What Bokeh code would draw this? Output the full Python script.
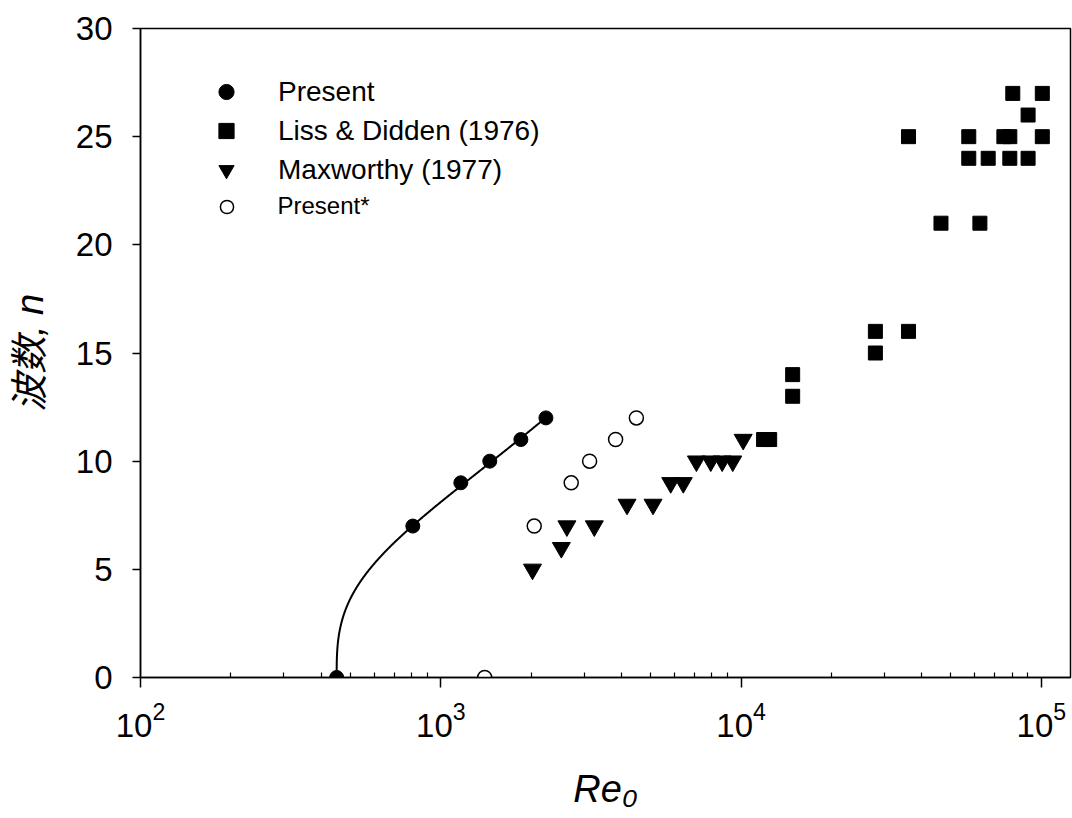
import numpy as np
from bokeh.plotting import figure
from bokeh.models import Range1d, FixedTicker, Legend, LegendItem
from bokeh.embed import file_html
from bokeh.resources import INLINE

# ---- data ----
re_present = [450, 807, 1166, 1456, 1848, 2239]
n_present = [0, 7, 9, 10, 11, 12]

re_present_star = [1400, 2047, 2718, 3130, 3820, 4480]
n_present_star = [0, 7, 9, 10, 11, 12]

re_maxworthy = [2020, 2520, 2630, 3245, 4170, 5090, 5830, 6420, 7100, 7925, 8650, 9380, 10160]
n_maxworthy = [5, 6, 7, 7, 8, 8, 9, 9, 10, 10, 10, 10, 11]

re_liss = [11880, 12450, 14850, 14850, 28000, 28000, 36100, 36100, 46300, 62400,
           57300, 66500, 78500, 90300, 57300, 75000, 78500, 100700, 90300, 80300, 100700]
n_liss = [11, 11, 14, 13, 16, 15, 16, 25, 21, 21,
          24, 24, 24, 24, 25, 25, 25, 25, 26, 27, 27]

x_major_ticks = [100, 1000, 10000, 100000]
y_ticks = [0, 5, 10, 15, 20, 25, 30]

x_title = "Re\u2080"
y_title = "波数, n"

# ---- fit curve through "Present": n^3 = a (Re - Re_c) ----
re_arr = np.array(re_present, float)
n_arr = np.array(n_present, float)
d = re_arr - re_arr[0]
a_fit = np.sum(d * n_arr ** 3) / np.sum(d ** 2)
t = np.linspace(0, 1, 400)
re_fit = re_arr[0] + (re_arr[-1] - re_arr[0]) * t ** 3
n_fit = np.cbrt(a_fit * (re_fit - re_arr[0]))

FONT = "Liberation Sans"

p = figure(width=1072, height=818, x_axis_type="log",
           x_range=Range1d(100, 125000), y_range=Range1d(0, 30),
           output_backend="svg", toolbar_location=None,
           min_border_left=140, min_border_right=2,
           min_border_top=28, min_border_bottom=141)
p.background_fill_color = "white"
p.border_fill_color = "white"
p.outline_line_color = "black"
p.outline_line_width = 1.5
p.xgrid.visible = False
p.ygrid.visible = False

minor = []
for dec in x_major_ticks[:-1]:
    for k in range(2, 10):
        minor.append(dec * k)
p.xaxis.ticker = FixedTicker(ticks=x_major_ticks, minor_ticks=minor)
p.yaxis.ticker = FixedTicker(ticks=y_ticks)

for ax in (p.xaxis, p.yaxis):
    ax.axis_line_color = "black"
    ax.axis_line_width = 1.5
    ax.major_tick_line_color = "black"
    ax.major_tick_line_width = 1.5
    ax.major_label_text_font = FONT
    ax.major_label_text_font_size = "33px"
    ax.major_label_text_color = "black"
    ax.major_tick_in = 0
    ax.axis_label_text_color = "black"
    ax.axis_label_text_font_style = "italic"

p.xaxis.major_tick_out = 10
p.xaxis.minor_tick_in = 5
p.xaxis.minor_tick_out = 0
p.xaxis.minor_tick_line_color = "black"
p.xaxis.minor_tick_line_width = 1.2
p.xaxis.major_label_standoff = 14
p.xaxis.axis_label = x_title
p.xaxis.axis_label_text_font = FONT
p.xaxis.axis_label_text_font_size = "38px"
p.xaxis.axis_label_standoff = 28

p.yaxis.major_tick_out = 8
p.yaxis.minor_tick_line_color = None
p.yaxis.major_label_standoff = 20
p.yaxis.axis_label = y_title
p.yaxis.axis_label_text_font = "Liberation Sans, Noto Sans CJK SC"
p.yaxis.axis_label_text_font_size = "38px"
p.yaxis.axis_label_standoff = 22

# ---- marks ----
p.line(re_fit, n_fit, line_width=2, line_color="black")
r_present = p.scatter(re_present, n_present, marker="circle", size=14,
                      fill_color="black", line_color="black", line_width=1)
r_liss = p.scatter(re_liss, n_liss, marker="square", size=14,
                   fill_color="black", line_color="black", line_width=1)
r_max = p.scatter(re_maxworthy, n_maxworthy, marker="inverted_triangle", size=18,
                  fill_color="black", line_color="black", line_width=1)
r_star = p.scatter(re_present_star, n_present_star, marker="circle", size=14,
                   fill_color="white", line_color="black", line_width=1.5)

# ---- legends ----
leg1 = Legend(items=[LegendItem(label="Present", renderers=[r_present]),
                     LegendItem(label="Liss & Didden (1976)", renderers=[r_liss]),
                     LegendItem(label="Maxworthy (1977)", renderers=[r_max])],
              location=(67, 488), orientation="vertical",
              label_text_font=FONT, label_text_font_size="28px", label_text_color="black",
              label_standoff=33, glyph_width=38, glyph_height=39,
              label_height=39, spacing=0, padding=0, margin=0,
              border_line_color=None, background_fill_alpha=0)
leg2 = Legend(items=[LegendItem(label="Present*", renderers=[r_star])],
              location=(69.5, 454.5), orientation="vertical",
              label_text_font=FONT, label_text_font_size="24px", label_text_color="black",
              label_standoff=35, glyph_width=33, glyph_height=33,
              label_height=33, spacing=0, padding=0, margin=0,
              border_line_color=None, background_fill_alpha=0)
p.add_layout(leg1)
p.add_layout(leg2)

open("out.html", "w").write(file_html(p, INLINE))
